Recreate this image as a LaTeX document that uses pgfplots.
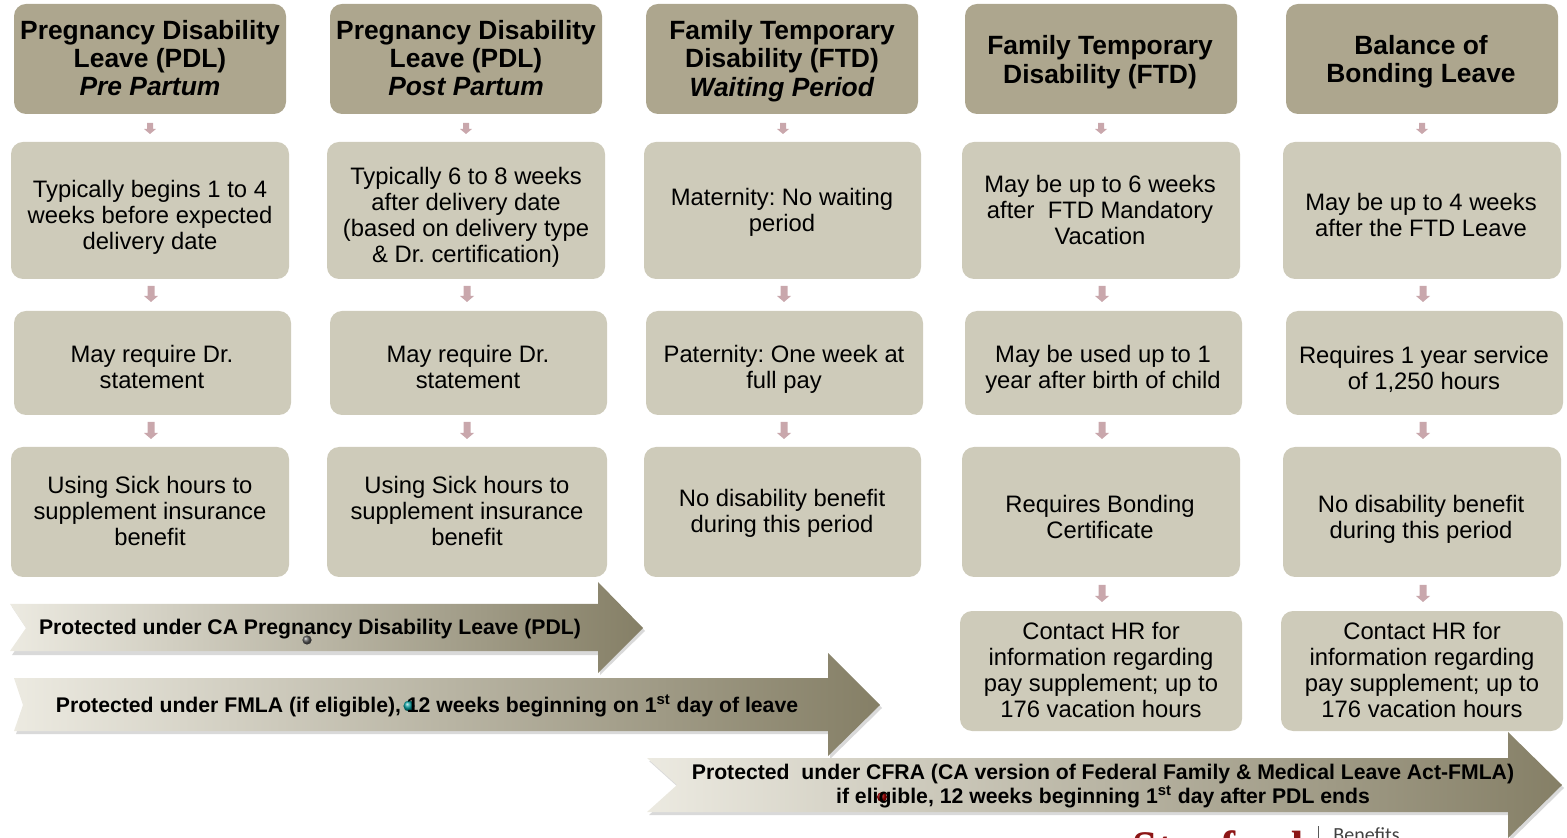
\documentclass[border=0pt]{standalone}
\usepackage{pgfplots}
\pgfplotsset{compat=1.18}
\usepackage{fontspec}
\setmainfont{Liberation Sans}
\newfontfamily\serif{Liberation Serif}
\newfontfamily\calib{Carlito}
\frenchspacing
\definecolor{hdr}{HTML}{ADA68E}
\definecolor{bdy}{HTML}{CECBBA}
\definecolor{sar}{HTML}{C9A7AC}
\definecolor{arL}{HTML}{ECEAE1}
\definecolor{arR}{HTML}{857F66}
\definecolor{stan}{HTML}{8C1515}
\newcommand\hfnt{\fontsize{13.2}{14.2}\selectfont\bfseries}
\newcommand\bfnt{\fontsize{11.9}{13}\selectfont}
\newcommand\afnt{\fontsize{10.6}{11.8}\selectfont\bfseries}
% box: x1 y1 x2 y2 colour
\newcommand\rbox[5]{\fill[#5, rounded corners=6pt] (#1,#2) rectangle (#3,#4);}
% small arrow: x ytop ybottom shafthalf headhalf headlen
\newcommand\sarr[6]{\fill[sar] (#1-#4,#2) -- (#1+#4,#2) -- (#1+#4,#3-#6) -- (#1+#5,#3-#6) -- (#1,#3) -- (#1-#5,#3-#6) -- (#1-#4,#3-#6) -- cycle;}
\begin{document}
\begin{tikzpicture}
\begin{axis}[
  scale only axis, width=783.5pt, height=419pt,
  xmin=0, xmax=1567, ymin=0, ymax=838, y dir=reverse,
  hide axis, clip=true]
% ---- header boxes
\rbox{14}{4}{286}{114}{hdr}
\rbox{330}{4}{602}{114}{hdr}
\rbox{646}{4}{918}{114}{hdr}
\rbox{965}{4}{1237}{114}{hdr}
\rbox{1286}{4}{1558}{114}{hdr}
% ---- row 1
\rbox{11}{142}{289}{279}{bdy}
\rbox{327}{142}{605}{279}{bdy}
\rbox{644}{142}{921}{279}{bdy}
\rbox{962}{142}{1240}{279}{bdy}
\rbox{1283}{142}{1561}{279}{bdy}
% ---- row 2
\rbox{14}{311}{291}{415}{bdy}
\rbox{330}{311}{607}{415}{bdy}
\rbox{646}{311}{923}{415}{bdy}
\rbox{965}{311}{1242}{415}{bdy}
\rbox{1286}{311}{1563}{415}{bdy}
% ---- row 3
\rbox{11}{447}{289}{577}{bdy}
\rbox{327}{447}{607}{577}{bdy}
\rbox{644}{447}{921}{577}{bdy}
\rbox{962}{447}{1240}{577}{bdy}
\rbox{1283}{447}{1561}{577}{bdy}
% ---- row 4
\rbox{960}{611}{1242}{731}{bdy}
\rbox{1281}{611}{1563}{731}{bdy}
% ---- small arrows
\sarr{150}{123}{134}{3}{6}{5}
\sarr{466}{123}{134}{3}{6}{5}
\sarr{783}{123}{134}{3}{6}{5}
\sarr{1101}{123}{134}{3}{6}{5}
\sarr{1422}{123}{134}{3}{6}{5}
\sarr{151}{286}{302}{3.5}{7}{6}
\sarr{467}{286}{302}{3.5}{7}{6}
\sarr{784}{286}{302}{3.5}{7}{6}
\sarr{1102}{286}{302}{3.5}{7}{6}
\sarr{1423}{286}{302}{3.5}{7}{6}
\sarr{151}{422}{439}{3.5}{7}{6}
\sarr{467}{422}{439}{3.5}{7}{6}
\sarr{784}{422}{439}{3.5}{7}{6}
\sarr{1102}{422}{439}{3.5}{7}{6}
\sarr{1423}{422}{439}{3.5}{7}{6}
\sarr{1102}{585}{602}{3.5}{7}{6}
\sarr{1423}{585}{602}{3.5}{7}{6}
% ---- big arrows: shadows
\fill[black, opacity=0.15] (12,607) -- (600,607) -- (600,586) -- (645,631) -- (600,675) -- (600,655) -- (12,655) -- (28,631) -- cycle;
\fill[black, opacity=0.15] (16,681) -- (830,681) -- (830,656) -- (882,708) -- (830,759) -- (830,734) -- (16,734) -- (25,708) -- cycle;
\fill[black, opacity=0.15] (649,761) -- (1510,761) -- (1510,735) -- (1564,788) -- (1510,841) -- (1510,815) -- (649,815) -- (679,788) -- cycle;
% ---- big arrows
\shade[left color=arL, right color=arR] (10,604) -- (598,604) -- (598,582) -- (643,628) -- (598,673) -- (598,651) -- (10,651) -- (26,628) -- cycle;
\shade[left color=arL, right color=arR] (14,678) -- (828,678) -- (828,653) -- (880,705) -- (828,756) -- (828,731) -- (14,731) -- (23,705) -- cycle;
\shade[left color=arL, right color=arR] (647,758) -- (1508,758) -- (1508,732) -- (1562,785) -- (1508,838) -- (1508,812) -- (647,812) -- (677,785) -- cycle;
% ---- decorative dots
\shade[ball color=gray!70!black] (307,640) circle (2.3pt);
\shade[ball color=teal!80!cyan] (409,706) circle (2.8pt);
\shade[ball color=red!70!black] (882,797) circle (2.5pt);
% ---- header texts
\node[align=center, font=\hfnt] at (150,58) {Pregnancy Disability\\Leave (PDL)\\\textit{Pre Partum}};
\node[align=center, font=\hfnt] at (466,58) {Pregnancy Disability\\Leave (PDL)\\\textit{Post Partum}};
\node[align=center, font=\hfnt] at (782,61) {Family Temporary\\Disability (FTD)\\\textit{Waiting Period}};
\node[align=center, font=\hfnt] at (1100,62) {Family Temporary\\Disability (FTD)};
\node[align=center, font=\hfnt] at (1421,62) {Balance of\\Bonding Leave};
% ---- row 1 texts
\node[align=center, font=\bfnt] at (150,217) {Typically begins 1 to 4\\weeks before expected\\delivery date};
\node[align=center, font=\bfnt] at (466,217) {Typically 6 to 8 weeks\\after delivery date\\(based on delivery type\\\& Dr. certification)};
\node[align=center, font=\bfnt] at (782,212) {Maternity: No waiting\\period};
\node[align=center, font=\bfnt] at (1100,210) {May be up to 6 weeks\\after\ \ FTD Mandatory\\Vacation};
\node[align=center, font=\bfnt] at (1421,215) {May be up to 4 weeks\\after the FTD Leave};
% ---- row 2 texts
\node[align=center, font=\bfnt] at (152,367) {May require Dr.\\statement};
\node[align=center, font=\bfnt] at (468,367) {May require Dr.\\statement};
\node[align=center, font=\bfnt] at (784,369) {Paternity: One week at\\full pay};
\node[align=center, font=\bfnt] at (1103,369) {May be used up to 1\\year after birth of child};
\node[align=center, font=\bfnt] at (1424,369) {Requires 1 year service\\of 1,250 hours};
% ---- row 3 texts
\node[align=center, font=\bfnt] at (150,511) {Using Sick hours to\\supplement insurance\\benefit};
\node[align=center, font=\bfnt] at (467,511) {Using Sick hours to\\supplement insurance\\benefit};
\node[align=center, font=\bfnt] at (782,513) {No disability benefit\\during this period};
\node[align=center, font=\bfnt] at (1100,517) {Requires Bonding\\Certificate};
\node[align=center, font=\bfnt] at (1421,519) {No disability benefit\\during this period};
% ---- row 4 texts
\node[align=center, font=\bfnt] at (1101,670) {Contact HR for\\information regarding\\pay supplement; up to\\176 vacation hours};
\node[align=center, font=\bfnt] at (1422,670) {Contact HR for\\information regarding\\pay supplement; up to\\176 vacation hours};
% ---- arrow texts
\node[font=\afnt] at (310,629) {Protected under CA Pregnancy Disability Leave (PDL)};
\node[font=\afnt] at (427,706) {Protected under FMLA (if eligible), 12 weeks beginning on 1\textsuperscript{st} day of leave};
\node[align=center, font=\afnt] at (1103,786) {Protected\ \ under CFRA (CA version of Federal Family \& Medical Leave Act-FMLA)\\if eligible, 12 weeks beginning 1\textsuperscript{st} day after PDL ends};
% ---- logo (cut at bottom)
\node[anchor=base west, inner sep=0pt, text=stan, font=\serif\bfseries\fontsize{22.6}{23}\selectfont] at (1132,862) {Stanford};
\draw[gray!70!black, line width=0.5pt] (1318,826) -- (1318,850);
\node[anchor=base west, inner sep=0pt, text=black!75, font=\calib\fontsize{10}{10}\selectfont] at (1333,841) {Benefits};
\end{axis}
\pgfresetboundingbox
\path[use as bounding box] (current axis.south west) rectangle (current axis.north east);
\end{tikzpicture}
\end{document}
